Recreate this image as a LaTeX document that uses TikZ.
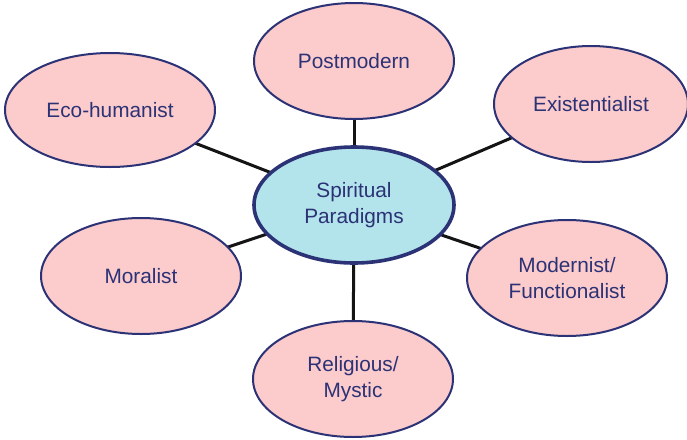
\documentclass[tikz,border=0pt]{standalone}
\usepackage{fontspec}
\setmainfont{Liberation Sans}
\usetikzlibrary{shapes.geometric,backgrounds}
\definecolor{petal}{HTML}{FCCBCC}
\definecolor{hub}{HTML}{B3E4EC}
\definecolor{ink}{HTML}{2B3275}
\definecolor{spoke}{HTML}{141414}
\tikzset{
  paradigm/.style={ellipse, draw=ink, line width=1pt, fill=petal, text=ink,
    inner sep=0pt, align=center, font=\fontsize{10.4}{13}\selectfont},
  core/.style={paradigm, fill=hub, line width=1.8pt},
  link/.style={draw=spoke, line width=1.5pt}
}
\begin{document}
\begin{tikzpicture}[x=0.5pt, y=-0.5pt]
  \useasboundingbox (0,0) rectangle (687,440);
  \node[core, minimum width=100pt, minimum height=58pt] (hub) at (354,205) {Spiritual\\Paradigms};
  \node[paradigm, minimum width=100pt, minimum height=58pt] (post) at (354,61) {Postmodern};
  \node[paradigm, minimum width=97pt, minimum height=58pt] (exist) at (591,104) {Existentialist};
  \node[paradigm, minimum width=105pt, minimum height=57pt] (eco) at (110,110) {Eco-humanist};
  \node[paradigm, minimum width=100pt, minimum height=58pt] (moral) at (141,276) {Moralist};
  \node[paradigm, minimum width=100pt, minimum height=58pt] (modern) at (567,278) {Modernist/\\Functionalist};
  \node[paradigm, minimum width=100pt, minimum height=58pt] (relig) at (353,379) {Religious/\\Mystic};
  \begin{scope}[on background layer]
    \foreach \n in {post,exist,eco,moral,modern,relig}
      \draw[link] (hub.center) -- (\n.center);
  \end{scope}
\end{tikzpicture}
\end{document}
